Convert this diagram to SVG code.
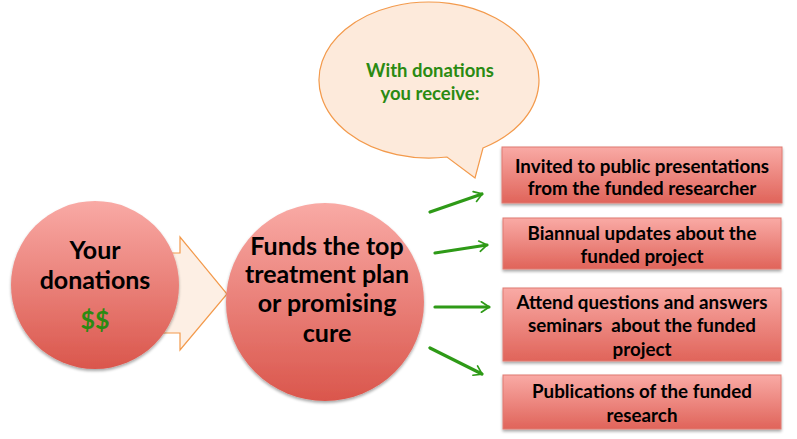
<svg xmlns="http://www.w3.org/2000/svg" width="797" height="439" viewBox="0 0 797 439">
<defs>
<linearGradient id="gCircle" x1="0" y1="0" x2="0" y2="1">
<stop offset="0" stop-color="#F9AAA5"/>
<stop offset="1" stop-color="#DA564C"/>
</linearGradient>
<linearGradient id="gBox" x1="0" y1="0" x2="0" y2="1">
<stop offset="0" stop-color="#F9AAA5"/>
<stop offset="1" stop-color="#E0645A"/>
</linearGradient>
<filter id="sh" x="-10%" y="-10%" width="125%" height="130%">
<feGaussianBlur in="SourceAlpha" stdDeviation="1.5"/>
<feOffset dx="0" dy="2" result="b"/>
<feComponentTransfer><feFuncA type="linear" slope="0.35"/></feComponentTransfer>
<feMerge><feMergeNode/><feMergeNode in="SourceGraphic"/></feMerge>
</filter>
<marker id="ah" viewBox="0 0 12 12" refX="10" refY="6" markerWidth="6" markerHeight="6" markerUnits="userSpaceOnUse" orient="auto" overflow="visible">
<polyline points="-2,-2 10,6 -2,14" fill="none" stroke="#2E9A17" stroke-width="2.6" stroke-linecap="round" stroke-linejoin="round" transform="scale(1.3) translate(-2,-1.4)"/>
</marker>
<style>
.circle{fill:url(#gCircle);filter:url(#sh)}
.box{fill:url(#gBox);stroke:#E07A72;stroke-width:1;filter:url(#sh)}
.t{font-family:Lato,"Liberation Sans",sans-serif;font-weight:bold;fill:#000;text-anchor:middle}
.big{font-size:25px}
.small{font-size:18.8px}
.bub{font-size:18.5px}
.green{fill:#2A8A12}
.conn{stroke:#2E9A17;stroke-width:3.2;fill:none;stroke-linecap:round}
</style>
</defs>

<g id="block-arrow">
<polygon points="150,253 180,253 180,237 227,294 180,350 180,333 150,333" fill="#FDEFE4" stroke="#F39A4C" stroke-width="1.2"/>
</g>

<g id="node-donations">
<circle class="circle" cx="95" cy="285" r="84"/>
<text class="t big" x="95" y="259">Your</text>
<text class="t big" x="95" y="289">donations</text>
<text class="t big green" x="95" y="329">$$</text>
</g>

<g id="node-funds">
<circle class="circle" cx="325" cy="302" r="99"/>
<text class="t big" x="327" y="255">Funds the top</text>
<text class="t big" x="327" y="283">treatment plan</text>
<text class="t big" x="327" y="312">or promising</text>
<text class="t big" x="327" y="342">cure</text>
</g>

<g id="node-bubble">
<path d="M447,157 A110,78 0 1 1 483,148 L475,178 Z" fill="#FDEADB" stroke="#F39A4C" stroke-width="1.2"/>
<text class="t bub green" x="430" y="77">With donations</text>
<text class="t bub green" x="430" y="100">you receive:</text>
</g>

<g id="node-box1">
<rect class="box" x="502" y="147" width="280" height="56"/>
<text class="t small" x="642" y="173">Invited to public presentations</text>
<text class="t small" x="642" y="195">from the funded researcher</text>
</g>

<g id="node-box2">
<rect class="box" x="503" y="218" width="278" height="51"/>
<text class="t small" x="642" y="240">Biannual updates about the</text>
<text class="t small" x="642" y="263">funded project</text>
</g>

<g id="node-box3">
<rect class="box" x="503" y="288" width="278" height="73"/>
<text class="t small" x="642" y="309">Attend questions and answers</text>
<text class="t small" x="642" y="332" xml:space="preserve">seminars  about the funded</text>
<text class="t small" x="642" y="356">project</text>
</g>

<g id="node-box4">
<rect class="box" x="503" y="375" width="278" height="54"/>
<text class="t small" x="642" y="398">Publications of the funded</text>
<text class="t small" x="642" y="422">research</text>
</g>

<g id="connectors">
<line class="conn" x1="430" y1="212" x2="482" y2="194" marker-end="url(#ah)"/>
<line class="conn" x1="435" y1="253" x2="487" y2="245" marker-end="url(#ah)"/>
<line class="conn" x1="435" y1="307" x2="489" y2="307" marker-end="url(#ah)"/>
<line class="conn" x1="430" y1="348" x2="482" y2="374" marker-end="url(#ah)"/>
</g>
</svg>
